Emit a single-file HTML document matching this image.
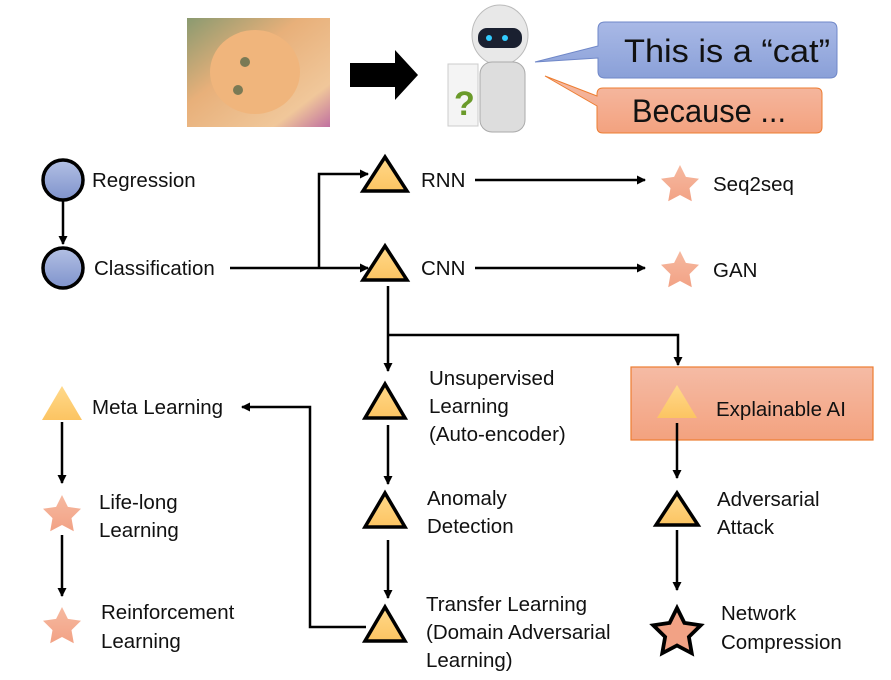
<!DOCTYPE html>
<html><head><meta charset="utf-8"><style>
html,body{margin:0;padding:0;background:#fff}
svg{display:block}
text{font-family:"Liberation Sans",sans-serif;font-size:20.5px;fill:#111}
</style></head><body>
<svg width="891" height="680" viewBox="0 0 891 680" xmlns="http://www.w3.org/2000/svg">
<defs>
<marker id="a" markerWidth="9" markerHeight="9" refX="8" refY="4.5" orient="auto" markerUnits="userSpaceOnUse"><path d="M0,0 L9,4.5 L0,9 z" fill="#000"/></marker>
<linearGradient id="cg" x1="0" y1="0" x2="0" y2="1"><stop offset="0" stop-color="#b3c0e4"/><stop offset="1" stop-color="#7f93cc"/></linearGradient>
<linearGradient id="tg" x1="0" y1="0" x2="0" y2="1"><stop offset="0" stop-color="#ffd98a"/><stop offset="1" stop-color="#fcc462"/></linearGradient>
<linearGradient id="sg" x1="0" y1="0" x2="0" y2="1"><stop offset="0" stop-color="#f6b9a0"/><stop offset="1" stop-color="#f2a285"/></linearGradient>
<linearGradient id="bg" x1="0" y1="0" x2="0" y2="1"><stop offset="0" stop-color="#f5bba5"/><stop offset="1" stop-color="#f3a27f"/></linearGradient>
<linearGradient id="bl" x1="0" y1="0" x2="0" y2="1"><stop offset="0" stop-color="#a9b9e6"/><stop offset="1" stop-color="#8aa0d8"/></linearGradient>
<linearGradient id="cat" x1="0" y1="0" x2="1" y2="1"><stop offset="0" stop-color="#8a9a70"/><stop offset="0.4" stop-color="#e8b07a"/><stop offset="0.8" stop-color="#f0c79a"/><stop offset="1" stop-color="#c070a0"/></linearGradient>
<path id="star" d="M0,-20 L5.9,-8.1 L19,-6.2 L9.5,3.1 L11.8,16.2 L0,10 L-11.8,16.2 L-9.5,3.1 L-19,-6.2 L-5.9,-8.1 Z"/>
</defs>
<rect x="187" y="18" width="143" height="109" fill="url(#cat)"/>
<ellipse cx="255" cy="72" rx="45" ry="42" fill="#f0b57c"/>
<circle cx="245" cy="62" r="5" fill="#7a7a55"/><circle cx="238" cy="90" r="5" fill="#7a7a55"/>
<path d="M350,63 L395,63 L395,50 L418,75 L395,100 L395,87 L350,87 Z" fill="#000"/>
<ellipse cx="500" cy="35" rx="28" ry="30" fill="#e8e8e8" stroke="#bbb"/>
<rect x="478" y="28" width="44" height="20" rx="9" fill="#1a2030"/>
<circle cx="489" cy="38" r="3" fill="#3cf"/><circle cx="505" cy="38" r="3" fill="#3cf"/>
<rect x="480" y="62" width="45" height="70" rx="12" fill="#ddd" stroke="#aaa"/>
<rect x="448" y="64" width="30" height="62" fill="#f4f4f4" stroke="#ccc"/>
<text x="454" y="115" style="font-size:34px;font-weight:bold;fill:#6a9a2a">?</text>
<path d="M605,22 L830,22 Q837,22 837,29 L837,71 Q837,78 830,78 L605,78 Q598,78 598,71 L598,58 L535,62 L598,46 L598,29 Q598,22 605,22 Z" fill="url(#bl)" stroke="#6f87c8"/>
<text x="624" y="62" style="font-size:32px" textLength="206" lengthAdjust="spacingAndGlyphs">This is a “cat”</text>
<path d="M603,88 L816,88 Q822,88 822,94 L822,127 Q822,133 816,133 L603,133 Q597,133 597,127 L597,106 L545,76 L597,96 L597,94 Q597,88 603,88 Z" fill="url(#bg)" stroke="#ed7d31"/>
<text x="632" y="122" style="font-size:32px" textLength="154" lengthAdjust="spacingAndGlyphs">Because ...</text>

<g stroke="#000" stroke-width="2.5" fill="none">
<line x1="63" y1="201" x2="63" y2="244" marker-end="url(#a)"/>
<line x1="230" y1="268" x2="368" y2="268" marker-end="url(#a)"/>
<polyline points="319,268 319,174 368,174" marker-end="url(#a)"/>
<line x1="475" y1="180" x2="645" y2="180" marker-end="url(#a)"/>
<line x1="475" y1="268" x2="645" y2="268" marker-end="url(#a)"/>
<line x1="388" y1="286" x2="388" y2="371" marker-end="url(#a)"/>
<polyline points="388,335 678,335 678,365" marker-end="url(#a)"/>
<line x1="388" y1="425" x2="388" y2="484" marker-end="url(#a)"/>
<line x1="388" y1="540" x2="388" y2="598" marker-end="url(#a)"/>
<polyline points="366,627 310,627 310,407 242,407" marker-end="url(#a)"/>
<line x1="62" y1="422" x2="62" y2="483" marker-end="url(#a)"/>
<line x1="62" y1="535" x2="62" y2="596" marker-end="url(#a)"/>
<line x1="677" y1="530" x2="677" y2="590" marker-end="url(#a)"/>
</g>
<rect x="631" y="367" width="242" height="73" fill="url(#bg)" stroke="#ed7d31" stroke-width="1.2"/>
<line x1="677" y1="423" x2="677" y2="478" stroke="#000" stroke-width="2.5" marker-end="url(#a)"/>

<g stroke="#000" stroke-width="3.5" fill="url(#cg)">
<circle cx="63" cy="180" r="20"/><circle cx="63" cy="268" r="20"/>
</g>
<g stroke="#000" stroke-width="3.5" fill="url(#tg)">
<polygon points="385,157 407,191 363,191"/>
<polygon points="385,246 407,280 363,280"/>
<polygon points="385,384 405,418 365,418"/>
<polygon points="385,493 405,527 365,527"/>
<polygon points="385,607 405,641 365,641"/>
<polygon points="677,493 698,525 656,525"/>
</g>
<polygon points="62,386 82,420 42,420" fill="url(#tg)"/>
<polygon points="677,385 697,418 657,418" fill="url(#tg)"/>
<use href="#star" x="680" y="185" fill="url(#sg)"/>
<use href="#star" x="680" y="271" fill="url(#sg)"/>
<use href="#star" x="62" y="515" fill="url(#sg)"/>
<use href="#star" x="62" y="627" fill="url(#sg)"/>
<g transform="translate(677,633) scale(1.25)"><path d="M0,-20 L5.9,-8.1 L19,-6.2 L9.5,3.1 L11.8,16.2 L0,10 L-11.8,16.2 L-9.5,3.1 L-19,-6.2 L-5.9,-8.1 Z" fill="#f2a285" stroke="#000" stroke-width="3"/></g>

<text x="92" y="187">Regression</text>
<text x="94" y="275">Classification</text>
<text x="421" y="187">RNN</text>
<text x="421" y="275">CNN</text>
<text x="713" y="191">Seq2seq</text>
<text x="713" y="277">GAN</text>
<text x="429" y="385">Unsupervised</text>
<text x="429" y="413">Learning</text>
<text x="429" y="441">(Auto-encoder)</text>
<text x="427" y="505">Anomaly</text>
<text x="427" y="533">Detection</text>
<text x="426" y="611">Transfer Learning</text>
<text x="426" y="639">(Domain Adversarial</text>
<text x="426" y="667">Learning)</text>
<text x="92" y="414">Meta Learning</text>
<text x="99" y="509">Life-long</text>
<text x="99" y="537">Learning</text>
<text x="101" y="619">Reinforcement</text>
<text x="101" y="648">Learning</text>
<text x="716" y="416">Explainable AI</text>
<text x="717" y="506">Adversarial</text>
<text x="717" y="534">Attack</text>
<text x="721" y="620">Network</text>
<text x="721" y="649">Compression</text>
</svg>
</body></html>
